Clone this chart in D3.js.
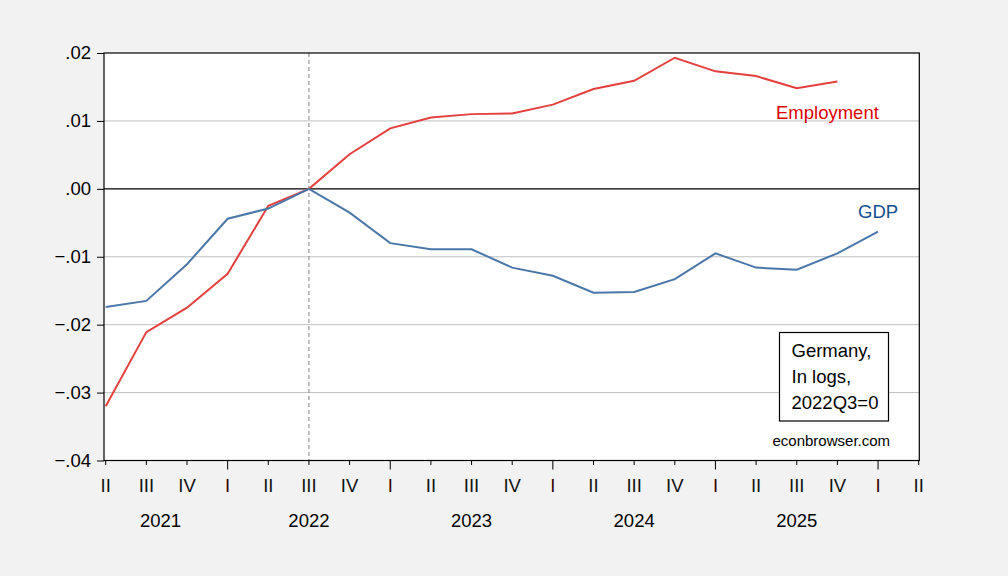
<!DOCTYPE html>
<html>
<head>
<meta charset="utf-8">
<title>Germany GDP and Employment</title>
<script src="https://cdn.jsdelivr.net/npm/d3@7/dist/d3.min.js"></script>
<style>
  body { margin: 0; background: #f2f2f2; }
  svg { display: block; font-family: "Liberation Sans", Arial, sans-serif; }
</style>
</head>
<body>
<svg id="chart" width="1008" height="576"></svg>
<script>
// quarters from 2021Q2 to 2026Q2
var quarters = ["II","III","IV","I","II","III","IV","I","II","III","IV","I","II","III","IV","I","II","III","IV","I","II"];
var years = [
  { label: "2021", from: 0, to: 2 },
  { label: "2022", from: 3, to: 6 },
  { label: "2023", from: 7, to: 10 },
  { label: "2024", from: 11, to: 14 },
  { label: "2025", from: 15, to: 18 }
];
// log deviation from 2022Q3
var gdp = [-0.0174, -0.0165, -0.0111, -0.0044, -0.0029, 0.0000, -0.0035, -0.0080, -0.0089, -0.0089,
           -0.0116, -0.0128, -0.0153, -0.0152, -0.0133, -0.0095, -0.0116, -0.0119, -0.0095, -0.0063];
var employment = [-0.0320, -0.0211, -0.0175, -0.0125, -0.0025, 0.0000, 0.0051, 0.0089, 0.0105, 0.0110,
                  0.0111, 0.0124, 0.0147, 0.0159, 0.0193, 0.0173, 0.0166, 0.0148, 0.0158];
var yTicks = [0.02, 0.01, 0.00, -0.01, -0.02, -0.03, -0.04];
var refQuarter = 5; // 2022Q3

var plotLeft = 104, plotRight = 919.3, plotTop = 53, plotBottom = 460.5;
var svg = d3.select("#chart");

var x = d3.scaleLinear().domain([0, quarters.length - 1]).range([105.7, 918.7]);
var y = d3.scaleLinear().domain([-0.04, 0.02]).range([plotBottom, plotTop]);

svg.append("rect")
  .attr("x", plotLeft).attr("y", plotTop)
  .attr("width", plotRight - plotLeft).attr("height", plotBottom - plotTop)
  .attr("fill", "#fff");

// gridlines
svg.selectAll(".grid")
  .data(yTicks.filter(function (d) { return d !== 0 && d !== 0.02 && d !== -0.04; }))
  .enter().append("line")
  .attr("x1", plotLeft).attr("x2", plotRight)
  .attr("y1", function (d) { return y(d); }).attr("y2", function (d) { return y(d); })
  .attr("stroke", "#c0c0c0").attr("stroke-width", 1);

// zero line
svg.append("line")
  .attr("x1", plotLeft).attr("x2", plotRight)
  .attr("y1", y(0)).attr("y2", y(0))
  .attr("stroke", "#000").attr("stroke-width", 1.2);

// reference quarter
svg.append("line")
  .attr("x1", x(refQuarter)).attr("x2", x(refQuarter))
  .attr("y1", plotTop).attr("y2", plotBottom)
  .attr("stroke", "#808080").attr("stroke-width", 1)
  .attr("stroke-dasharray", "4,3");

var line = d3.line()
  .x(function (d, i) { return x(i); })
  .y(function (d) { return y(d); });

svg.append("path").datum(employment)
  .attr("d", line).attr("fill", "none")
  .attr("stroke", "#e3403e").attr("stroke-width", 2);

svg.append("path").datum(gdp)
  .attr("d", line).attr("fill", "none")
  .attr("stroke", "#4a77a8").attr("stroke-width", 2);

// frame
svg.append("rect")
  .attr("x", plotLeft).attr("y", plotTop)
  .attr("width", plotRight - plotLeft).attr("height", plotBottom - plotTop)
  .attr("fill", "none").attr("stroke", "#000").attr("stroke-width", 1.2);

// y axis
var yAxis = d3.axisLeft(y)
  .tickValues(yTicks)
  .tickSize(7)
  .tickPadding(6)
  .tickFormat(function (d) { return d3.format(".2f")(d).replace("0.", "."); });
var gy = svg.append("g").attr("transform", "translate(" + plotLeft + ",0)").call(yAxis);
gy.select(".domain").remove();
gy.selectAll("line").attr("stroke", "#000");
gy.selectAll("text").attr("font-size", 18.5).attr("fill", "#000")
  .attr("font-family", "Liberation Sans, Arial, sans-serif");

// x axis
var gx = svg.append("g");
gx.selectAll(".qtick")
  .data(quarters)
  .enter().append("line")
  .attr("x1", function (d, i) { return x(i); }).attr("x2", function (d, i) { return x(i); })
  .attr("y1", plotBottom)
  .attr("y2", function (d) { return d === "I" ? plotBottom + 9 : plotBottom + 4.5; })
  .attr("stroke", "#000").attr("stroke-width", 1);

gx.selectAll(".qlabel")
  .data(quarters)
  .enter().append("text")
  .attr("x", function (d, i) { return x(i); })
  .attr("y", 492)
  .attr("text-anchor", "middle")
  .attr("font-size", 18.5)
  .attr("fill", function (d) { return d === "I" ? "#3a0000" : "#111"; })
  .text(function (d) { return d; });

gx.selectAll(".ylabel")
  .data(years)
  .enter().append("text")
  .attr("x", function (d) { return d.label === "2021" ? x(1.35) : x((d.from + d.to) / 2 + 0.5); })
  .attr("y", 527)
  .attr("text-anchor", "middle")
  .attr("font-size", 18.5)
  .attr("fill", "#000")
  .text(function (d) { return d.label; });

// series labels
svg.append("text").attr("x", 776).attr("y", 119)
  .attr("font-size", 18.5).attr("fill", "#dd0000").text("Employment");
svg.append("text").attr("x", 858).attr("y", 218)
  .attr("font-size", 18.5).attr("fill", "#164f8f").text("GDP");

// note box
svg.append("rect")
  .attr("x", 779.5).attr("y", 332.5)
  .attr("width", 109).attr("height", 88.5)
  .attr("fill", "#fff").attr("stroke", "#000").attr("stroke-width", 1.2);
var noteLines = ["Germany,", "In logs,", "2022Q3=0"];
svg.selectAll(".note")
  .data(noteLines)
  .enter().append("text")
  .attr("x", 791.5)
  .attr("y", function (d, i) { return 357 + i * 26; })
  .attr("font-size", 18.5).attr("fill", "#000")
  .text(function (d) { return d; });

svg.append("text").attr("x", 772.5).attr("y", 446)
  .attr("font-size", 15).attr("fill", "#000").text("econbrowser.com");
</script>
</body>
</html>
